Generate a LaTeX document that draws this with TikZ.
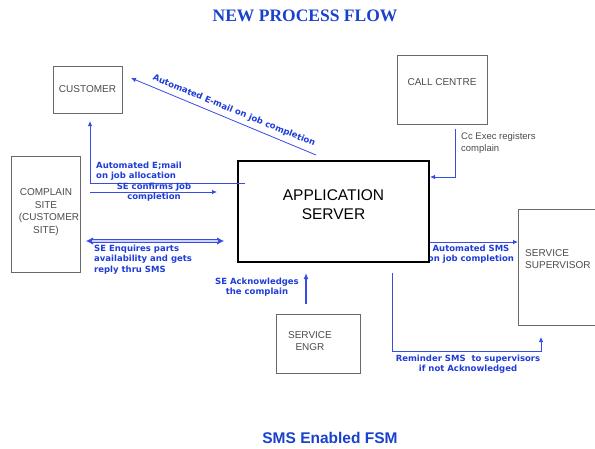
\documentclass[tikz,border=0pt]{standalone}
\usepackage{fontspec}
\setmainfont{Liberation Sans}
\newfontfamily\labelfont{DejaVu Sans}
\newfontfamily\headfont{Liberation Serif}
\usetikzlibrary{arrows.meta}
\definecolor{flowblue}{RGB}{55,75,230}
\definecolor{flowpale}{RGB}{205,210,248}
\definecolor{textblue}{RGB}{30,60,215}
\definecolor{titleblue}{RGB}{25,65,205}
\definecolor{boxgray}{RGB}{105,105,105}
\definecolor{textgray}{RGB}{75,75,75}
\begin{document}
\begin{tikzpicture}[x=1pt,y=-1pt,
  box/.style={draw=boxgray, line width=0.8pt, inner sep=0pt, text=textgray,
    font=\fontsize{10}{12.5}\selectfont, align=center},
  boxtext/.style={inner sep=0pt, text=textgray, font=\fontsize{10}{12.5}\selectfont},
  flow/.style={draw=flowblue, line width=0.8pt, -{Latex[length=5pt,width=4.5pt]}},
  note/.style={inner sep=0pt, text=textblue, font=\labelfont\bfseries\fontsize{8.5}{10.2}\selectfont},
]
\useasboundingbox (0,0) rectangle (595,448);

% titles
\node[inner sep=0pt, text=titleblue, font=\headfont\bfseries\fontsize{17.5}{20}\selectfont] (title) at (305,16) {NEW PROCESS FLOW};
\node[inner sep=0pt, text=titleblue, font=\bfseries\fontsize{15.5}{18}\selectfont] (subtitle) at (330,438) {SMS Enabled FSM};

% boxes
\node[box, minimum width=69pt, minimum height=47pt] (cust) at (87.5,89.5) {CUSTOMER};
\node[box, minimum width=90pt, minimum height=69pt] (cc) at (442,89.5) {};
\node[boxtext] (cctext) at (442,82) {CALL CENTRE};
\node[box, minimum width=69pt, minimum height=116pt] (site) at (45.5,214) {};
\node[boxtext, align=center] (sitetext) at (46,212) {COMPLAIN\\SITE\\\hspace*{6pt}(CUSTOMER\\SITE)};
\node[box, minimum width=84pt, minimum height=59pt] (engr) at (318,343.5) {};
\node[boxtext, align=center] (engrtext) at (310,341) {SERVICE\\ENGR};
\node[box, minimum width=90pt, minimum height=116pt, anchor=north west] (sup) at (518,209) {};
\node[boxtext, align=left, anchor=west] (suptext) at (525,259) {SERVICE\\SUPERVISOR};

% labels drawn before the server box so its frame stays on top
\node[note, align=center] (smsnote) at (471,254.5) {Automated SMS\\on job completion};

\node[draw=black, line width=2.4pt, minimum width=191pt, minimum height=101pt, inner sep=0pt] (app) at (333.5,211.5) {};
\node[inner sep=0pt, align=center, font=\fontsize{15.5}{19}\selectfont] (apptext) at (333.5,204.5) {APPLICATION\\SERVER};

% free ends of the connectors
\coordinate (diagA) at (316,155);
\coordinate (diagB) at (131,78);
\coordinate (allocA) at (245,183);
\coordinate (allocB) at (90,121);
\coordinate (confA) at (90,192);
\coordinate (confB) at (217,192);
\coordinate (enqA) at (86,241);
\coordinate (enqB) at (224,241);
\coordinate (ccA) at (455,129);
\coordinate (ackA) at (306,304);
\coordinate (ackB) at (306,273);
\coordinate (remA) at (392,273);
\coordinate (remB) at (541,337);

% connectors
\draw[flow] (diagA) -- (diagB);
\draw[flow] (allocA) -- (allocB |- allocA) -- (allocB);
\draw[flow] (confA) -- (confB);
% two-way double line: blue outer stroke with a pale core
\draw[draw=flowblue, line width=3.6pt,
  {Latex[length=7pt,width=7pt,line width=0pt]}-{Latex[length=7pt,width=7pt,line width=0pt]}] (enqA) -- (enqB);
\draw[draw=flowpale, line width=1.6pt, shorten <=6pt, shorten >=6pt] (enqA) -- (enqB);
\draw[flow, line width=0.6pt] (ccA) -- (ccA |- 0,177) -- (app.east |- 0,177);
\draw[draw=flowblue, line width=2pt, -{Latex[length=6pt,width=5pt]}] (ackA) -- (ackB);
\draw[flow] (app.east |- 0,242) -- (sup.west |- 0,242);
\draw[flow] (remA) -- (remA |- 0,351) -- (remB |- 0,351) -- (remB);

% connector labels
\node[note, rotate=-22.3] (diagnote) at (234,111) {Automated E-mail on job completion};
\node[note, align=left, anchor=west] (allocnote) at (96,171) {Automated E;mail\\on job allocation};
\node[note, align=center] (confnote) at (154,192) {SE confirms Job\\completion};
\node[note, align=left, anchor=west] (enqnote) at (94,259.5) {SE Enquires parts\\availability and gets\\reply thru SMS};
\node[inner sep=0pt, align=left, anchor=west, text=textgray, font=\fontsize{9.5}{12}\selectfont] (ccnote) at (461,143) {Cc Exec registers\\complain};
\node[note, align=center] (acknote) at (257,287) {SE Acknowledges\\the complain};
\node[note, align=center] (remnote) at (468,364.5) {Reminder SMS\ \ to supervisors\\if not Acknowledged};
\end{tikzpicture}
\end{document}
